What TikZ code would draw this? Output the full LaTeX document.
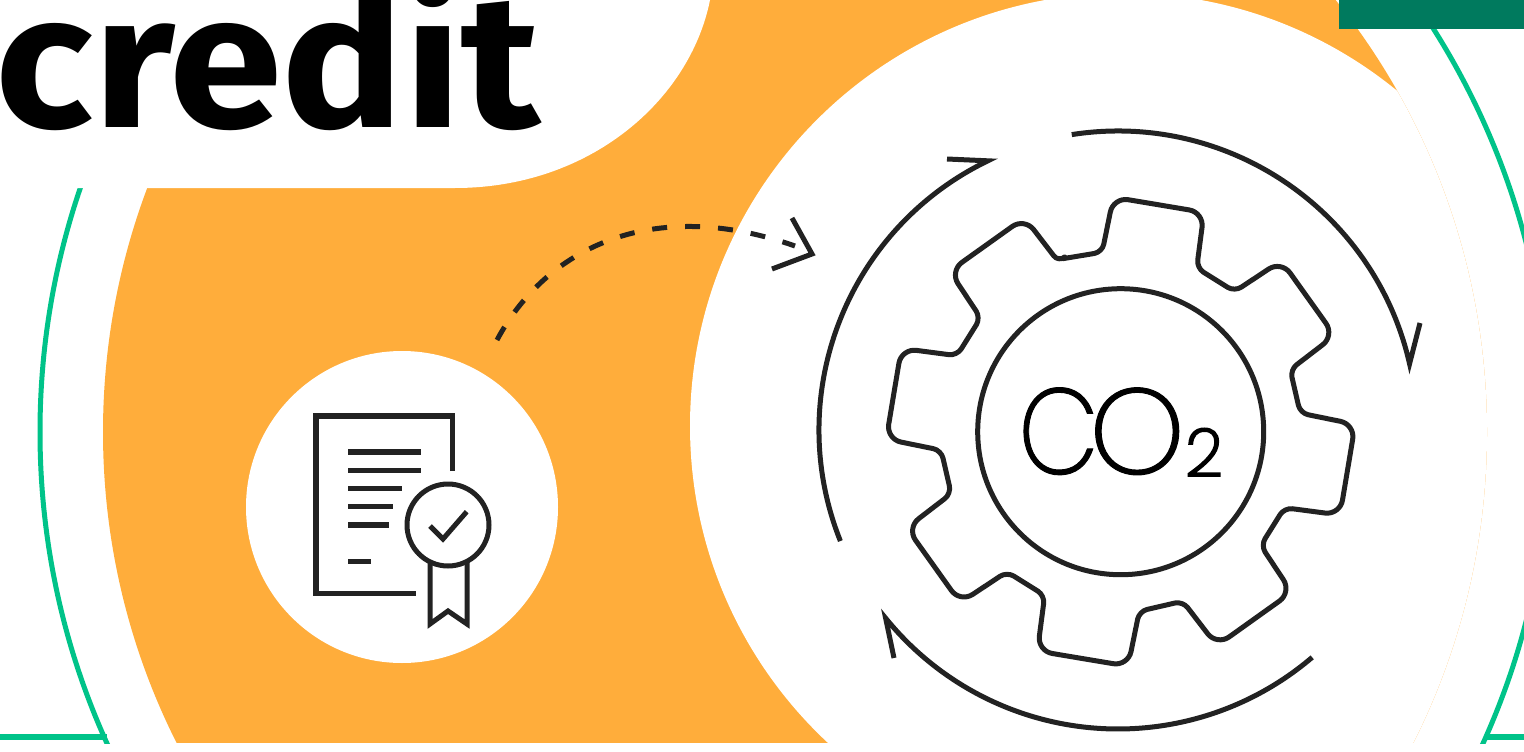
\documentclass[tikz,border=0pt]{standalone}
\usepackage{xcolor}
\usepackage{fontspec}
\usepackage{tikz}
\usetikzlibrary{positioning, calc}
\setmainfont{Fira Sans}
\newfontfamily\gasfont{Poppins ExtraLight}[RawFeature={embolden=0.8}]
\newfontfamily\subfont{Poppins ExtraLight}[RawFeature={embolden=3}]
\definecolor{creditorange}{HTML}{FFAD3B}
\definecolor{ringgreen}{HTML}{00C389}
\definecolor{bargreen}{HTML}{007A5E}
\definecolor{iconink}{HTML}{222222}
\tikzset{
    iconline/.style={draw=iconink, line width=5pt, miter limit=20},
    ringline/.style={draw=ringgreen, line width=5pt},
    textline/.style={draw=iconink, line width=5.3pt}
}

\begin{document}
\begin{tikzpicture}[x=1pt, y=-1pt]
    \useasboundingbox (0,0) rectangle (1524,752);
    \clip (0,0) rectangle (1524,752);
    \coordinate (bigcentre) at (795,432);
    \coordinate (gearcentre) at (1120.7,431.7);
    \coordinate (loopcentre) at (1118,430);

    \begin{scope}
        \clip (0,0) rectangle (1524,743);
        \draw[ringline] (bigcentre) circle[radius=755];
        \draw[ringgreen, line width=6pt] (0,736.5) -- (107,736.5);
        \draw[ringgreen, line width=6pt] (1487,736.5) -- (1524,736.5);
    \end{scope}

    \begin{scope}
        \clip (0,0) rectangle (1524,742.5);
        \fill[creditorange] (bigcentre) circle[radius=692];
    \end{scope}

    \fill[white] (-5,-5) -- (-5,188) -- (455,188)
        .. controls (590,188) and (690,100) .. (710,0) -- (710,-5) -- cycle;

    \begin{scope}
        \clip (bigcentre) circle[radius=692];
        \fill[white] (1123,426) circle[radius=433];
    \end{scope}

    \fill[bargreen] (1339,-1) rectangle (1525,29);

    \node[anchor=base west, inner sep=0pt, xscale=1.075, font=\bfseries\fontsize{190}{190}\selectfont] (credittitle) at (-5,127) {credit};

    \node[circle, fill=white, inner sep=0pt, minimum size=312pt] (certdisc) at (402,507) {};
    \draw[iconline, line width=5.3pt] (452.5,471) -- (452.5,416) -- (316,416) -- (316,593.5) -- (416,593.5);
    \draw[textline] (348,452) -- (421,452);
    \draw[textline] (348,470.5) -- (421,470.5);
    \draw[textline] (348,488.7) -- (402,488.7);
    \draw[textline] (348,506.7) -- (393,506.7);
    \draw[textline] (348,525) -- (389,525);
    \draw[textline] (348,561.7) -- (371,561.7);
    \draw[iconline] (430,555) -- (430,624) -- (448,611) -- (467,624) -- (467,555);
    \node[circle, iconline, fill=white, inner sep=0pt, minimum size=82pt] (seal) at (448,525) {};
    \draw[iconline] (430,526) -- (443,539) -- (466.7,511.7);

    \coordinate (dashstart) at (497,340);
    \coordinate (dashend) at (795,246);
    \draw[iconline, dash pattern=on 15pt off 18pt] (dashstart) .. controls (545,250) and (650,195) .. (dashend);
    \draw[iconline] (792,218) -- (812,254) -- (772,269);

    \begin{scope}[shift={(gearcentre)}]
        \draw[iconline, line join=round]
            (-58,-173) \foreach \tooth in {-80.5,-35.5,9.5,54.5,99.5,144.5,189.5,234.5} {
                [rounded corners=8pt] -- (\tooth-15.4:180.5)
                [rounded corners=15pt] -- (\tooth-11.3:234.6) -- (\tooth+11.3:234.6)
                [rounded corners=8pt] -- (\tooth+15.4:180.5)
            } -- cycle;
    \end{scope}
    \node[circle, iconline, inner sep=0pt, minimum size=286pt] (gearhub) at (gearcentre) {};

    \node[anchor=base west, inner sep=0pt, font=\gasfont\fontsize{122}{122}\selectfont] (gaslabel) at (1018,474) {\scalebox{0.86}[1]{C}\kern-10pt O};
    \node[anchor=base west, inner sep=0pt, font=\subfont\fontsize{66}{66}\selectfont] (gassub) at (1185,476) {2};

    \draw[iconline] ($(loopcentre)+(-98.9:299)$) arc[start angle=-98.9, end angle=-12.8, radius=299] -- (1420,323);
    \draw[iconline] ($(loopcentre)+(-201.8:299)$) arc[start angle=-201.8, end angle=-115.8, radius=299] -- (947,159);
    \draw[iconline] ($(loopcentre)+(49.5:299)$) arc[start angle=49.5, end angle=141, radius=299] -- (894,658);
\end{tikzpicture}
\end{document}
